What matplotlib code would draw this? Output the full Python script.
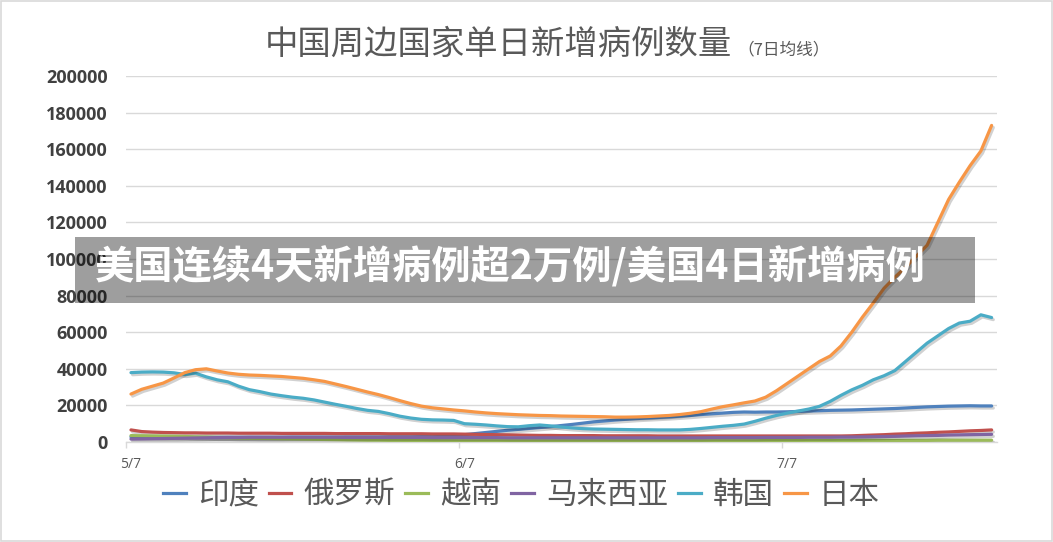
import numpy as np
import matplotlib
matplotlib.use('Agg')
import matplotlib.pyplot as plt
import matplotlib.patheffects as pe
from matplotlib.lines import Line2D
from matplotlib.patches import Rectangle

# daily 7-day average, 5/7 .. 7/26
india = [2800, 2700, 2700, 2600, 2600, 2600, 2500, 2500, 2500, 2500,
         2500, 2500, 2500, 2500, 2500, 2600, 2600, 2600, 2600, 2600,
         2700, 2700, 2700, 2700, 2800, 2800, 2800, 2900, 2900, 3000,
         3400, 4000, 4600, 5200, 5800, 6400, 6900, 7400, 7900, 8400,
         9000, 9600, 10300, 11000, 11500, 12000, 12400, 12800, 13100, 13400,
         13700, 14100, 14500, 15000, 15400, 15800, 16200, 16400, 16300, 16400,
         16400, 16500, 16700, 16900, 17100, 17300, 17400, 17500, 17700, 17900,
         18100, 18300, 18600, 18900, 19200, 19400, 19600, 19700, 19800, 19700, 19700]
russia = [6600, 5700, 5400, 5200, 5100, 5000, 5000, 4900, 4900, 4900,
          4800, 4800, 4800, 4800, 4700, 4700, 4700, 4700, 4700, 4600,
          4600, 4600, 4600, 4600, 4500, 4500, 4500, 4500, 4400, 4400,
          4400, 4300, 4200, 4100, 4000, 3900, 3800, 3700, 3600, 3600,
          3500, 3500, 3500, 3500, 3400, 3400, 3400, 3400, 3400, 3300,
          3300, 3300, 3300, 3300, 3300, 3300, 3300, 3300, 3300, 3300,
          3300, 3300, 3300, 3300, 3300, 3300, 3300, 3400, 3600, 3800,
          4000, 4300, 4500, 4800, 5000, 5300, 5500, 5800, 6100, 6300, 6600]
vietnam = [3500, 3400, 3300, 3200, 3100, 3000, 2800, 2700, 2500, 2400,
           2200, 2100, 2000, 1900, 1800, 1700, 1600, 1500, 1400, 1300,
           1200, 1100, 1000, 1000, 900, 900, 800, 800, 800, 700,
           700, 700, 700, 700, 700, 700, 700, 700, 700, 700,
           700, 700, 700, 700, 700, 700, 700, 700, 700, 700,
           700, 700, 700, 700, 700, 700, 700, 700, 700, 800,
           800, 800, 800, 800, 800, 800, 800, 800, 900, 900,
           900, 900, 900, 900, 900, 1000, 1000, 1000, 1000, 1000, 1000]
malaysia = [1600, 1700, 1800, 1900, 2000, 2100, 2200, 2300, 2400, 2500,
            2500, 2600, 2600, 2600, 2600, 2600, 2600, 2600, 2600, 2600,
            2500, 2500, 2500, 2500, 2500, 2500, 2500, 2500, 2400, 2400,
            2400, 2400, 2400, 2400, 2400, 2300, 2300, 2300, 2300, 2300,
            2300, 2300, 2300, 2300, 2300, 2300, 2300, 2300, 2300, 2300,
            2300, 2300, 2300, 2300, 2400, 2400, 2400, 2400, 2400, 2500,
            2500, 2500, 2500, 2600, 2600, 2600, 2700, 2700, 2800, 2900,
            3000, 3100, 3300, 3400, 3500, 3600, 3800, 3900, 4000, 4100, 4200]
korea = [37900, 38200, 38300, 38200, 37800, 36900, 37600, 35600, 34000, 32900,
         30500, 28600, 27500, 26200, 25300, 24500, 23900, 23000, 21800, 20600,
         19500, 18300, 17300, 16700, 15500, 14100, 13100, 12400, 12100, 12000,
         11800, 10000, 9700, 9300, 8800, 8400, 8300, 8900, 9300, 8800,
         8200, 7700, 7300, 7100, 7000, 6900, 6800, 6700, 6700, 6600,
         6600, 6600, 6900, 7400, 8000, 8600, 9100, 9800, 11300, 13000,
         14500, 15800, 16900, 18000, 19500, 22200, 25500, 28500, 31000, 34000,
         36200, 39000, 44000, 49000, 54000, 58000, 62000, 65000, 66000, 69500, 68000]
japan = [26200, 28800, 30500, 32200, 35000, 37900, 39500, 40000, 38800, 37700,
         37000, 36600, 36400, 36100, 35800, 35300, 34800, 34000, 33100, 31700,
         30300, 28800, 27300, 25900, 24300, 22600, 21000, 19600, 18700, 18100,
         17500, 17000, 16400, 15900, 15500, 15200, 14900, 14700, 14500, 14400,
         14200, 14100, 14000, 13900, 13800, 13600, 13600, 13700, 13900, 14200,
         14500, 15000, 15700, 16600, 18000, 19300, 20300, 21400, 22400, 24500,
         28000, 32000, 36000, 40000, 44000, 47000, 52500, 60000, 68300, 76000,
         84000, 90000, 95500, 101500, 107500, 120000, 132500, 142000, 151000, 159000, 173000]

names = ['印度', '俄罗斯', '越南', '马来西亚', '韩国', '日本']
colors = ['#4f81bd', '#c0504d', '#9bbb59', '#8064a2', '#4bacc6', '#f79646']
tick_pos = [0, 31, 61]
tick_labels = ['5/7', '6/7', '7/7']

cjk = ['Noto Sans CJK SC', 'DejaVu Sans']

fig = plt.figure(figsize=(10.53, 5.42), dpi=100)
ax = fig.add_axes([125.6 / 1053, 100 / 542, (997 - 125.6) / 1053, 366 / 542])

days = np.arange(len(japan))
shadow = [pe.SimpleLineShadow(offset=(1.2, -1.5), shadow_color='k', alpha=0.18), pe.Normal()]
for vals, c in zip([india, russia, vietnam, malaysia, korea, japan], colors):
    ax.plot(days, vals, color=c, lw=2.3, solid_capstyle='round', path_effects=shadow, zorder=3)

ax.set_xlim(-0.5, 80.5)
ax.set_ylim(0, 200000)
ax.set_yticks(np.arange(0, 200001, 20000))
ax.yaxis.grid(True, color='#d9d9d9', lw=1.0)
ax.set_axisbelow(True)
for s in ['top', 'right', 'left']:
    ax.spines[s].set_visible(False)
ax.spines['bottom'].set_color('#d9d9d9')
ax.spines['bottom'].set_linewidth(1.0)

ax.set_xticks(tick_pos)
ax.set_xticklabels(tick_labels, fontsize=10, color='#595959', family='Open Sans')
ax.set_xticks([-0.5, 30.5, 60.5], minor=True)
ax.tick_params(axis='x', which='major', length=0, pad=11)
ax.tick_params(axis='x', which='minor', length=4, color='#d9d9d9', width=1)
ax.tick_params(axis='y', length=0, pad=13)
for t in ax.get_yticklabels():
    t.set_family('Open Sans')
    t.set_fontweight('bold')
    t.set_fontsize(13)
    t.set_color('#404040')

# title
fig.text(265 / 1053, 1 - 54 / 542, '中国周边国家单日新增病例数量', family=cjk,
         fontsize=24, fontweight='light', color='#595959', ha='left', va='baseline')
fig.text(737 / 1053, 1 - 54 / 542, '（7日均线）', family=cjk,
         fontsize=12, fontweight='light', color='#595959', ha='left', va='baseline')

# legend
handles = [Line2D([], [], color=c, lw=2.3) for c in colors]
fig.legend(handles, names, loc='center', bbox_to_anchor=(0.495, 1 - 495 / 542), ncol=6,
           frameon=False, prop={'family': cjk, 'size': 22, 'weight': 'light'},
           labelcolor='#595959', handlelength=0.75, handletextpad=0.4,
           columnspacing=0.32, borderpad=0)

# overlay banner
fig.patches.append(Rectangle((75 / 1053, 1 - 303 / 542), 900 / 1053, 66 / 542,
                             transform=fig.transFigure, facecolor='k', alpha=0.38,
                             edgecolor='none', zorder=10))
fig.text(95 / 1053, 1 - 268 / 542, '美国连续4天新增病例超2万例/美国4日新增病例',
         family=cjk, fontsize=28.3, fontweight='black', color='white',
         ha='left', va='center', zorder=11)

# figure border
fig.patches.append(Rectangle((0.0005, 0.001), 0.999, 0.998, transform=fig.transFigure,
                             facecolor='none', edgecolor='#d9d9d9', lw=1.2, zorder=12))

fig.savefig('out.png', dpi=100)
plt.close()
